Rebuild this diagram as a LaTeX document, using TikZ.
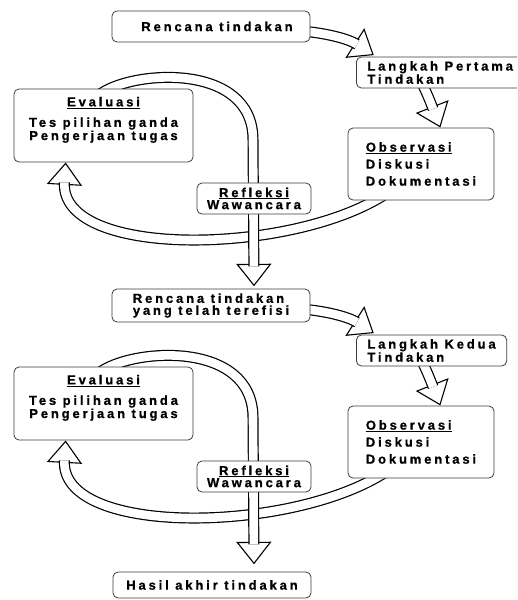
\documentclass[tikz,border=0pt]{standalone}
\usepackage{fontspec}
\newfontfamily\diagfont{Liberation Sans Bold}[LetterSpace=22, FakeBold=0.8]
\usetikzlibrary{backgrounds,decorations.markings}
\definecolor{boxline}{RGB}{60,60,60}

\tikzset{
  box/.style={draw=boxline, rounded corners=5pt, fill=white, line width=0.8pt,
              inner sep=0pt, font=\fontsize{13}{12}\diagfont},
  hollow/.style={line width=11pt, shorten >=19pt,
    preaction={decorate, decoration={markings, mark=at position -0.5pt with
      {\draw[line width=1.1pt, fill=white, shorten >=0pt]
        (0.5pt,0pt) -- (-20.5pt,16.5pt) -- (-20.5pt,-16.5pt) -- cycle;}}},
    postaction={draw=white, line width=8.6pt, shorten >=19pt}}
}

\begin{document}
\begin{tikzpicture}[x=1pt, y=-1pt]
  \useasboundingbox (0,0) rectangle (517,600);
  \clip (0,0) rectangle (517,600);

  \node[box, minimum width=198pt, minimum height=31pt] (plan1) at (211,26.5)
        {\hspace*{12pt}Rencana tindakan};
  \node[box, minimum width=198pt, minimum height=33pt, align=left]
        (plan2) at (211,305.5) {Rencana tindakan\\yang telah terefisi};
  \node[box, minimum width=198pt, minimum height=26pt] (plan3) at (212,585)
        {Hasil akhir tindakan};

  \foreach \k/\n/\dy/\what in {1/2/0/Pertama, 2/3/278/Kedua} {
    \node[box, minimum height=31pt, inner xsep=11pt, align=left, anchor=west]
          (step\k) at (356,72.5+\dy) {Langkah \what\hspace{30pt}\\Tindakan};
    \node[box, minimum width=179pt, minimum height=73pt, align=center]
          (eval\k) at (103.5,125.5+\dy)
          {\underline{Evaluasi}\\[8.5pt]Tes pilihan ganda\\Pengerjaan tugas\\[2pt]\mbox{}};
    \node[box, minimum width=146pt, minimum height=72pt, align=left]
          (obs\k) at (421,164+\dy)
          {\underline{Observasi}\\[5pt]Diskusi\\[5pt]Dokumentasi};
    \node[box, minimum width=114pt, minimum height=31pt, align=center]
          (refl\k) at (254,198.5+\dy) {\underline{Refleksi}\\Wawancara};

    % hollow arrows go under the boxes
    \begin{scope}[on background layer]
      \draw[hollow] ([xshift=-3pt,yshift=-21pt]plan\k.north east)
            .. controls +(19,2) and +(-25,-16) .. ([xshift=17pt,yshift=2pt]step\k.north west);
      \draw[hollow] ([xshift=67pt,yshift=3pt]step\k.south west)
            .. controls +(4,8) and +(-9,-23) .. ([xshift=19pt,yshift=1pt]obs\k.north);
      \draw[hollow] ([xshift=-30pt,yshift=10pt]obs\k.south)
            .. controls +(-91,65) and +(-6,97) .. ([xshift=52pt,yshift=-1pt]eval\k.south west);
      \draw[hollow] ([xshift=-5.5pt,yshift=-7pt]eval\k.north)
            .. controls +(32,-26) and +(0,-78) .. ++(155,44)
            -- ([yshift=-71pt]refl\k.south);
    \end{scope}
  }
\end{tikzpicture}
\end{document}
